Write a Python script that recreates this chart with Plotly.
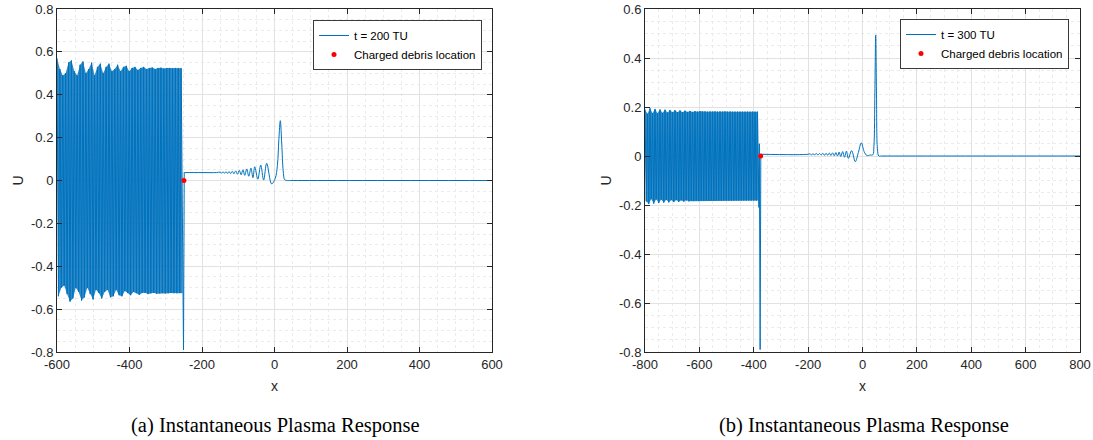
import numpy as np
import plotly.graph_objects as go

BLUE = "#0072BD"
AX = "#262626"

# ---------------- panel (a): t = 200 TU ----------------
# alternating crest / trough values of the trailing wave packet
band_a_top = [0.57, 0.52, 0.49, 0.50, 0.55, 0.56, 0.51, 0.49, 0.54, 0.555, 0.50,
              0.52, 0.55, 0.49, 0.53, 0.545, 0.50, 0.53, 0.545, 0.51, 0.52, 0.54,
              0.51, 0.53, 0.535, 0.51, 0.525, 0.53, 0.515, 0.525, 0.53, 0.52, 0.525,
              0.527, 0.52, 0.525, 0.526, 0.522, 0.525, 0.525, 0.523, 0.525, 0.525, 0.524]
band_a_bot = [-0.54, -0.50, -0.49, -0.53, -0.565, -0.55, -0.50, -0.52, -0.56, -0.545,
              -0.50, -0.53, -0.555, -0.51, -0.525, -0.55, -0.52, -0.51, -0.545, -0.54,
              -0.51, -0.535, -0.54, -0.515, -0.525, -0.535, -0.52, -0.525, -0.533,
              -0.525, -0.524, -0.53, -0.526, -0.524, -0.528, -0.526, -0.525, -0.527,
              -0.526, -0.525, -0.526, -0.526, -0.525, -0.526]
band_a_range = [-600, -253.5]
# sharp dip at the debris, then the quiet shelf
edge_a_x = [-251.0, -249.0]
edge_a_u = [-0.79, 0.037]
# precursor ripples and the leading soliton-like pulse
tail_a_x = [-249, -200, -160, -150, -146, -142, -138, -134, -130, -125.5, -121, -116.5,
            -112, -107, -102, -97, -92, -87, -82, -76.5, -71, -65, -59.5, -54.5, -46,
            -38, -30, -21.5, -8, 2, 8, 12, 16, 20, 24, 28, 34, 45, 600]
tail_a_u = [0.037, 0.037, 0.037, 0.039, 0.035, 0.040, 0.034, 0.041, 0.033, 0.042,
            0.032, 0.043, 0.031, 0.045, 0.029, 0.047, 0.027, 0.050, 0.024, 0.054,
            0.020, 0.058, 0.013, 0.064, 0.006, 0.072, 0.002, 0.080, -0.016, 0.01,
            0.07, 0.19, 0.279, 0.17, 0.045, 0.004, 0.0, 0.0, 0.0]
debris_a = ([-250], [0.0])

# ---------------- panel (b): t = 300 TU ----------------
band_b_top = [0.19, 0.172, 0.195, 0.174, 0.192, 0.175, 0.19, 0.176, 0.189, 0.177, 0.188,
              0.178, 0.187, 0.179, 0.186, 0.179, 0.185, 0.18, 0.184, 0.18, 0.183, 0.181,
              0.183, 0.181, 0.182, 0.181, 0.182, 0.181, 0.182, 0.181, 0.182, 0.181,
              0.182, 0.181, 0.182, 0.181, 0.181, 0.181, 0.181, 0.181, 0.181, 0.181,
              0.181, 0.181, 0.181, 0.181]
band_b_bot = [-0.185, -0.196, -0.176, -0.194, -0.177, -0.192, -0.178, -0.19, -0.179,
              -0.189, -0.18, -0.188, -0.18, -0.187, -0.181, -0.186, -0.181, -0.185,
              -0.182, -0.184, -0.182, -0.184, -0.182, -0.183, -0.182, -0.183, -0.182,
              -0.183, -0.182, -0.182, -0.182, -0.182, -0.182, -0.182, -0.182, -0.182,
              -0.182, -0.182, -0.182, -0.182, -0.182, -0.182, -0.182, -0.182, -0.182,
              -0.182]
band_b_range = [-800, -381.5]
edge_b_x = [-381.0, -379.5, -376.5, -374.0]
edge_b_u = [-0.21, 0.05, -0.79, 0.007]
tail_b_x = [-374, -200, -194, -188, -182, -176, -170, -164, -158, -152, -146, -140,
            -134, -128, -122, -116, -110, -104, -98, -92, -86, -80, -73, -66, -59,
            -52, -40, -26.5, -15, -4.4, 6, 16, 28, 38, 42, 45.5, 48.6, 51.5, 55, 60,
            70, 800]
tail_b_u = [0.007, 0.007, 0.009, 0.005, 0.009, 0.005, 0.010, 0.004, 0.010, 0.004,
            0.011, 0.003, 0.011, 0.003, 0.012, 0.002, 0.013, 0.001, 0.014, 0.000,
            0.016, -0.002, 0.018, -0.005, 0.020, -0.010, 0.022, -0.023, 0.015, 0.054,
            0.018, 0.002, 0.004, 0.005, 0.04, 0.26, 0.494, 0.25, 0.03, 0.0, 0.0, 0.0]
debris_b = ([-374.5], [0.0])

# axis ticks
xt_a = [-600, -400, -200, 0, 200, 400, 600]
yt_a = [-0.8, -0.6, -0.4, -0.2, 0, 0.2, 0.4, 0.6, 0.8]
xt_b = [-800, -600, -400, -200, 0, 200, 400, 600, 800]
yt_b = [-0.8, -0.6, -0.4, -0.2, 0, 0.2, 0.4, 0.6]
yt_a_text = ["-0.8", "-0.6", "-0.4", "-0.2", "0", "0.2", "0.4", "0.6", "0.8"]
yt_b_text = ["-0.8", "-0.6", "-0.4", "-0.2", "0", "0.2", "0.4", "0.6"]


def packet(top, bot, xr):
    """Crest/trough grid of the wave packet: the zigzag and its closed envelope."""
    n = len(top)
    xs = np.linspace(xr[0], xr[1], 2 * n)
    us = np.empty(2 * n)
    us[0::2] = top
    us[1::2] = bot
    env_x = np.concatenate([xs[0::2], xs[1::2][::-1]])
    env_u = np.concatenate([us[0::2], us[1::2][::-1]])
    return xs, us, env_x, env_u


fig = go.Figure()

for tag, (top, bot, xr, ex, eu, tx, tu, deb, label, xa, ya, lg) in {
    "a": (band_a_top, band_a_bot, band_a_range, edge_a_x, edge_a_u, tail_a_x, tail_a_u,
          debris_a, "t = 200 TU", "x", "y", "legend"),
    "b": (band_b_top, band_b_bot, band_b_range, edge_b_x, edge_b_u, tail_b_x, tail_b_u,
          debris_b, "t = 300 TU", "x2", "y2", "legend2"),
}.items():
    xs, us, env_x, env_u = packet(top, bot, xr)
    # the carrier is far finer than a pixel, so the packet reads as a shaded block
    fig.add_trace(go.Scatter(x=env_x, y=env_u, mode="lines", fill="toself",
                             fillcolor="rgba(0,114,189,0.82)", line=dict(width=0),
                             showlegend=False, legend=lg, xaxis=xa, yaxis=ya,
                             hoverinfo="skip"))
    fig.add_trace(go.Scatter(x=np.concatenate([xs, ex]), y=np.concatenate([us, eu]),
                             mode="lines", name=label, legendgroup=tag, legend=lg,
                             line=dict(color=BLUE, width=1), xaxis=xa, yaxis=ya,
                             hoverinfo="skip"))
    fig.add_trace(go.Scatter(x=tx, y=tu, mode="lines", legendgroup=tag, showlegend=False,
                             legend=lg, line=dict(color=BLUE, width=1, shape="spline"),
                             xaxis=xa, yaxis=ya))
    fig.add_trace(go.Scatter(x=deb[0], y=deb[1], mode="markers",
                             name="Charged debris location", legend=lg,
                             marker=dict(color="#ff0000", size=5),
                             xaxis=xa, yaxis=ya))

tickfont = dict(family="Liberation Sans, Arial, sans-serif", size=13, color=AX)
common = dict(showline=True, linecolor=AX, linewidth=1, mirror="ticks", ticks="inside",
              ticklen=5, tickcolor=AX, tickfont=tickfont, showgrid=True,
              gridcolor="#e2e2e2", gridwidth=1, zeroline=False, automargin=False)


def xaxis(dom, rng, tv, anchor):
    return dict(common, domain=dom, range=rng, tickvals=tv, ticktext=[str(v) for v in tv],
                anchor=anchor,
                minor=dict(dtick=50, showgrid=True, gridcolor="#ebebeb", griddash="dot"),
                title=dict(text="x", font=dict(family="Liberation Sans, Arial", size=14,
                                               color=AX), standoff=10))


def yaxis(dom, rng, tv, tt, anchor):
    return dict(common, domain=dom, range=rng, tickvals=tv, ticktext=tt, anchor=anchor,
                minor=dict(dtick=0.05, showgrid=True, gridcolor="#ebebeb", griddash="dot"),
                title=dict(text="U", font=dict(family="Liberation Sans, Arial", size=14,
                                               color=AX), standoff=4))


ydom = [88 / 440, 431 / 440]
legend_style = dict(bgcolor="white", bordercolor="#3a3a3a", borderwidth=1,
                    font=dict(family="Liberation Sans, Arial", size=11.5, color="#000"),
                    xanchor="right", yanchor="top", tracegroupgap=0)

fig.update_layout(
    width=1093, height=440, margin=dict(l=0, r=0, t=0, b=0),
    paper_bgcolor="white", plot_bgcolor="white", showlegend=True,
    xaxis=xaxis([57 / 1093, 492 / 1093], [-600, 600], xt_a, "y"),
    yaxis=yaxis(ydom, [-0.8, 0.8], yt_a, yt_a_text, "x"),
    xaxis2=xaxis([645 / 1093, 1080 / 1093], [-800, 800], xt_b, "y2"),
    yaxis2=yaxis(ydom, [-0.8, 0.6], yt_b, yt_b_text, "x2"),
    legend=dict(legend_style, x=482 / 1093, y=(440 - 20) / 440),
    legend2=dict(legend_style, x=1069 / 1093, y=(440 - 19) / 440),
    annotations=[
        dict(text="(a) Instantaneous Plasma Response", xref="paper", yref="paper",
             x=275 / 1093, y=15 / 440, xanchor="center", yanchor="middle",
             showarrow=False, font=dict(family="Liberation Serif, serif", size=20.5,
                                        color="#000")),
        dict(text="(b) Instantaneous Plasma Response", xref="paper", yref="paper",
             x=864 / 1093, y=15 / 440, xanchor="center", yanchor="middle",
             showarrow=False, font=dict(family="Liberation Serif, serif", size=20.5,
                                        color="#000")),
    ],
)

fig.write_html("out.html")
